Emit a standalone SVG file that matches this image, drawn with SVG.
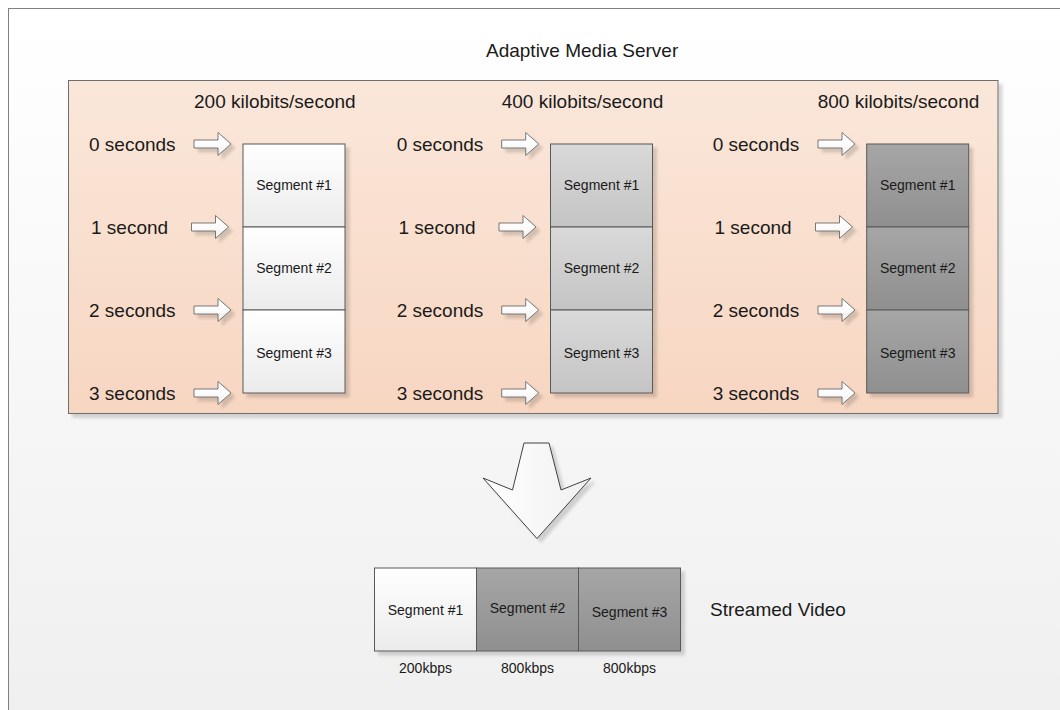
<svg xmlns="http://www.w3.org/2000/svg" width="1060" height="710" viewBox="0 0 1060 710">
<defs>
<linearGradient id="bg" x1="0" y1="0" x2="0" y2="1"><stop offset="0" stop-color="#ffffff"/><stop offset="1" stop-color="#efefef"/></linearGradient>
<linearGradient id="peach" x1="0" y1="0" x2="0" y2="1"><stop offset="0" stop-color="#fae7da"/><stop offset="1" stop-color="#f7d6c1"/></linearGradient>
<linearGradient id="w" x1="0" y1="0" x2="0" y2="1"><stop offset="0" stop-color="#ffffff"/><stop offset="1" stop-color="#ebebeb"/></linearGradient>
<linearGradient id="l" x1="0" y1="0" x2="0" y2="1"><stop offset="0" stop-color="#d9d9d9"/><stop offset="1" stop-color="#c4c4c4"/></linearGradient>
<linearGradient id="d" x1="0" y1="0" x2="0" y2="1"><stop offset="0" stop-color="#a6a6a6"/><stop offset="1" stop-color="#8f8f8f"/></linearGradient>
<linearGradient id="ar" x1="0" y1="0" x2="0" y2="1"><stop offset="0" stop-color="#ffffff"/><stop offset="0.5" stop-color="#fcfcfc"/><stop offset="1" stop-color="#ededed"/></linearGradient>
<linearGradient id="big" x1="0" y1="0" x2="1" y2="0"><stop offset="0" stop-color="#ffffff"/><stop offset="1" stop-color="#f0f0f0"/></linearGradient>
<filter id="sh" x="-10%" y="-10%" width="130%" height="130%">
<feGaussianBlur in="SourceAlpha" stdDeviation="1.5"/>
<feOffset dx="4" dy="4" result="o"/>
<feComponentTransfer><feFuncA type="linear" slope="0.15"/></feComponentTransfer>
<feMerge><feMergeNode/><feMergeNode in="SourceGraphic"/></feMerge>
</filter>
<path id="arw" d="M0,-4 H24 V-11.5 L37,0 L24,11.5 V4 H0 Z"/>
</defs>
<style>
.t{font-family:"Liberation Sans",Arial,sans-serif;font-size:19px;fill:#1a1a1a}
.s{font-family:"Liberation Sans",Arial,sans-serif;font-size:14px;fill:#1a1a1a;text-anchor:middle}
.box{stroke:#595959;stroke-width:1}
.a{fill:url(#ar);stroke:#595959;stroke-width:0.8}
</style>
<rect x="0" y="0" width="1060" height="710" fill="#ffffff"/>
<rect x="8.5" y="8.5" width="1070" height="720" fill="url(#bg)" stroke="#808080" stroke-width="1"/>
<text class="t" x="486" y="57">Adaptive Media Server</text>

<g id="server">
<rect x="68.5" y="80.5" width="929.5" height="333" fill="url(#peach)" stroke="#6e6e6e" stroke-width="1" filter="url(#sh)"/>
</g>

<g id="col200">
<text class="t" x="194" y="108">200 kilobits/second</text>
<text class="t" x="89" y="150.5">0 seconds</text>
<text class="t" x="91" y="233.5">1 second</text>
<text class="t" x="89" y="316.5">2 seconds</text>
<text class="t" x="89" y="399.5">3 seconds</text>
<g filter="url(#sh)">
<rect class="box" x="243" y="144" width="102" height="83" fill="url(#w)"/>
<rect class="box" x="243" y="227" width="102" height="83" fill="url(#w)"/>
<rect class="box" x="243" y="310" width="102" height="83" fill="url(#w)"/>
</g>
<text class="s" x="294" y="190">Segment #1</text>
<text class="s" x="294" y="273">Segment #2</text>
<text class="s" x="294" y="358">Segment #3</text>
</g>

<g id="col400">
<text class="t" x="501.7" y="108">400 kilobits/second</text>
<text class="t" x="396.7" y="150.5">0 seconds</text>
<text class="t" x="398.5" y="233.5">1 second</text>
<text class="t" x="396.7" y="316.5">2 seconds</text>
<text class="t" x="396.7" y="399.5">3 seconds</text>
<g filter="url(#sh)">
<rect class="box" x="550.5" y="144" width="102" height="83" fill="url(#l)"/>
<rect class="box" x="550.5" y="227" width="102" height="83" fill="url(#l)"/>
<rect class="box" x="550.5" y="310" width="102" height="83" fill="url(#l)"/>
</g>
<text class="s" x="601.5" y="190">Segment #1</text>
<text class="s" x="601.5" y="273">Segment #2</text>
<text class="s" x="601.5" y="358">Segment #3</text>
</g>

<g id="col800">
<text class="t" x="817.7" y="108">800 kilobits/second</text>
<text class="t" x="712.7" y="150.5">0 seconds</text>
<text class="t" x="714.5" y="233.5">1 second</text>
<text class="t" x="712.7" y="316.5">2 seconds</text>
<text class="t" x="712.7" y="399.5">3 seconds</text>
<g filter="url(#sh)">
<rect class="box" x="866.7" y="144" width="102" height="83" fill="url(#d)"/>
<rect class="box" x="866.7" y="227" width="102" height="83" fill="url(#d)"/>
<rect class="box" x="866.7" y="310" width="102" height="83" fill="url(#d)"/>
</g>
<text class="s" x="917.7" y="190">Segment #1</text>
<text class="s" x="917.7" y="273">Segment #2</text>
<text class="s" x="917.7" y="358">Segment #3</text>
</g>

<g id="connectors" filter="url(#sh)">
<use href="#arw" class="a" x="194" y="144"/>
<use href="#arw" class="a" x="191.5" y="227"/>
<use href="#arw" class="a" x="194" y="310"/>
<use href="#arw" class="a" x="194" y="393"/>
<use href="#arw" class="a" x="501.7" y="144"/>
<use href="#arw" class="a" x="499" y="227"/>
<use href="#arw" class="a" x="501.7" y="310"/>
<use href="#arw" class="a" x="501.7" y="393"/>
<use href="#arw" class="a" x="818" y="144"/>
<use href="#arw" class="a" x="815.5" y="227"/>
<use href="#arw" class="a" x="818" y="310"/>
<use href="#arw" class="a" x="818" y="393"/>
<path d="M524,443 H549 L561,490 L591,478 L537,538.5 L483,478 L512.5,490 Z" fill="url(#big)" stroke="#404040" stroke-width="1"/>
</g>

<g id="streamed">
<g filter="url(#sh)">
<rect class="box" x="374.5" y="568" width="102" height="83" fill="url(#w)"/>
<rect class="box" x="476.5" y="568" width="102" height="83" fill="url(#d)"/>
<rect class="box" x="578.5" y="568" width="102" height="83" fill="url(#d)"/>
</g>
<text class="s" x="425.5" y="614.5">Segment #1</text>
<text class="s" x="527.5" y="613">Segment #2</text>
<text class="s" x="629.5" y="616.5">Segment #3</text>
<text class="s" x="425.5" y="673">200kbps</text>
<text class="s" x="527.5" y="673">800kbps</text>
<text class="s" x="629.5" y="673">800kbps</text>
<text class="t" x="710" y="616">Streamed Video</text>
</g>
</svg>
